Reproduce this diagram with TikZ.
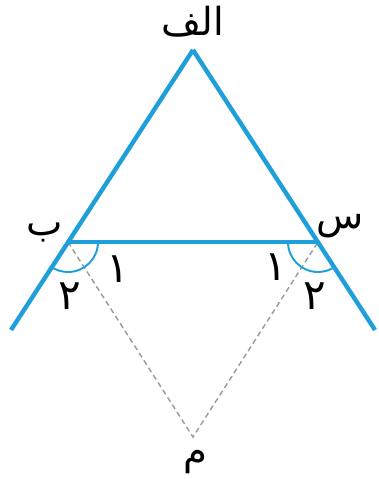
\documentclass[tikz,border=0pt]{standalone}
\usepackage{fontspec}
\usepackage{xcolor}
\usepackage{tikz}
\newfontfamily\arabicfont[Script=Arabic]{DejaVu Sans}
\TeXXeTstate=1
\definecolor{side}{HTML}{1E9FD9}
\definecolor{helper}{HTML}{9A9A9A}
\tikzset{
  sideline/.style={line width=2.5pt, draw=side, line cap=butt},
  anglemark/.style={line width=1.1pt, draw=side},
  helperline/.style={line width=0.8pt, draw=helper, dash pattern=on 3pt off 2pt},
  vertexlabel/.style={font=\arabicfont\fontsize{22}{24}\selectfont, text=black, inner sep=0pt},
  anglelabel/.style={font=\arabicfont\fontsize{24}{26}\selectfont, text=black, inner sep=0pt}
}

\begin{document}
\begin{tikzpicture}[x=0.02cm,y=0.02cm]
\path[use as bounding box] (0,0) rectangle (378,479);
\fill[white] (0,0) rectangle (378,479);

% points of the figure
\coordinate (alef) at (193,429);
\coordinate (be) at (68,237);
\coordinate (sin) at (318,237);
\coordinate (mim) at (193,42);
\coordinate (leftEnd) at (11,149);
\coordinate (rightEnd) at (375,149);

% helper lines to m
\draw[helperline] (be) -- (mim) -- (sin);

% the triangle and extended sides
\draw[sideline] (alef) -- (leftEnd);
\draw[sideline] (alef) -- (rightEnd);
\draw[sideline] (be) -- (sin);

% angle marks
\draw[anglemark] (be) ++(0:30) arc[start angle=0, end angle=-123, radius=30];
\draw[anglemark] (sin) ++(180:30) arc[start angle=180, end angle=303, radius=30];

% labels
\node[vertexlabel] (alefLabel) at (193,457) {\beginR الف\endR};
\node[vertexlabel] (beLabel) at (45,247) {\beginR ب\endR};
\node[vertexlabel] (sinLabel) at (340,253) {\beginR س\endR};
\node[vertexlabel] (mimLabel) at (195,17) {\beginR م\endR};
\node[anglelabel] (beOne) at (118,210) {۱};
\node[anglelabel] (beTwo) at (70,183) {۲};
\node[anglelabel] (sinOne) at (276,212) {۱};
\node[anglelabel] (sinTwo) at (315,183) {۲};
\end{tikzpicture}
\end{document}
